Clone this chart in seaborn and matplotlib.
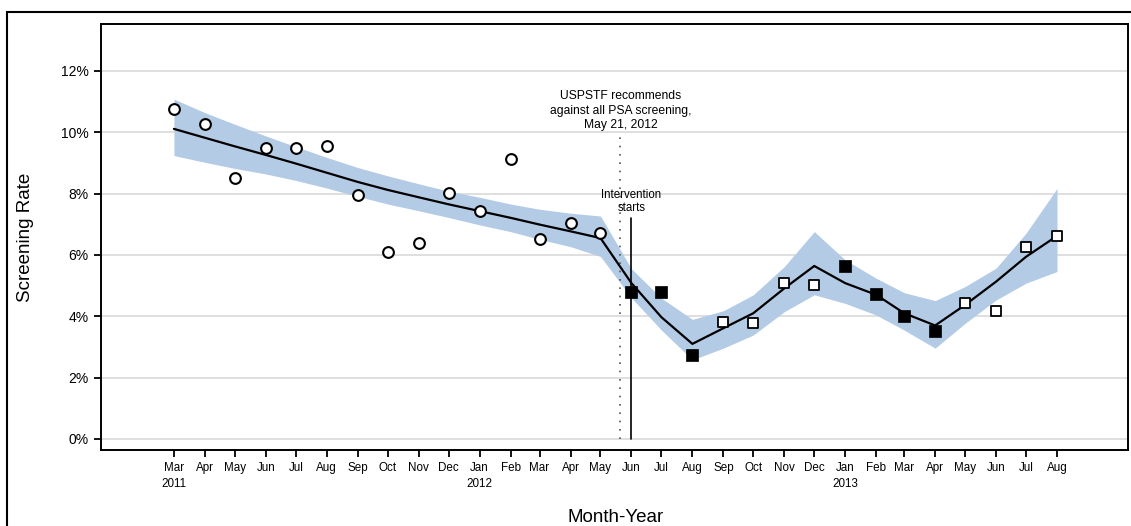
import matplotlib
matplotlib.use("Agg")
import matplotlib.pyplot as plt
import matplotlib.dates as mdates
from matplotlib.patches import Rectangle
from matplotlib.ticker import PercentFormatter
import seaborn as sns
import pandas as pd

# Monthly observations, Mar 2011 - Aug 2013
months = pd.date_range("2011-03-01", "2013-08-01", freq="MS")
month_names = ["Mar", "Apr", "May", "Jun", "Jul", "Aug", "Sep", "Oct", "Nov", "Dec",
               "Jan", "Feb", "Mar", "Apr", "May", "Jun", "Jul", "Aug", "Sep", "Oct",
               "Nov", "Dec", "Jan", "Feb", "Mar", "Apr", "May", "Jun", "Jul", "Aug"]
year_names = {0: "2011", 10: "2012", 22: "2013"}

# observed screening rate (%)
rate = [10.75, 10.27, 8.52, 9.48, 9.48, 9.55, 7.96, 6.11, 6.38, 8.03, 7.43, 9.14, 6.53, 7.03, 6.71,
        4.78, 4.78, 2.74, 3.81, 3.79, 5.10, 5.01, 5.64, 4.71, 4.02, 3.53, 4.42, 4.16, 6.25, 6.61]
# period: pre = circles, active = filled squares, off = open squares
period = ["pre"] * 15 + ["active", "active", "active", "off", "off", "off", "off",
                         "active", "active", "active", "active", "off", "off", "off", "off"]

# fitted model and confidence band (%)
fit = [10.11, 9.82, 9.54, 9.26, 8.98, 8.68, 8.38, 8.12, 7.88, 7.65, 7.43, 7.21, 6.99, 6.77, 6.55,
       5.08, 3.97, 3.10, 3.61, 4.10, 4.91, 5.64, 5.08, 4.70, 4.10, 3.70, 4.37, 5.13, 5.94, 6.62]
upper = [11.08, 10.64, 10.26, 9.88, 9.53, 9.18, 8.85, 8.58, 8.32, 8.08, 7.88, 7.66, 7.49, 7.36, 7.27,
         5.55, 4.59, 3.90, 4.18, 4.70, 5.62, 6.76, 5.84, 5.24, 4.77, 4.51, 4.97, 5.57, 6.71, 8.17]
lower = [9.24, 9.02, 8.82, 8.64, 8.43, 8.18, 7.91, 7.66, 7.44, 7.22, 6.98, 6.76, 6.51, 6.27, 5.95,
         4.60, 3.55, 2.58, 2.96, 3.39, 4.15, 4.70, 4.42, 4.04, 3.55, 2.96, 3.77, 4.53, 5.08, 5.46]

uspstf_date = pd.Timestamp("2012-05-21")
intervention_date = pd.Timestamp("2012-06-01")

df = pd.DataFrame({"month": months, "rate": rate, "period": period,
                   "fit": fit, "upper": upper, "lower": lower})

sns.set_style("white")
plt.rcParams["font.family"] = ["Liberation Sans", "DejaVu Sans"]
plt.rcParams["text.color"] = "black"
plt.rcParams["axes.labelcolor"] = "black"
plt.rcParams["xtick.color"] = "black"
plt.rcParams["ytick.color"] = "black"

fig = plt.figure(figsize=(11.31, 5.26), dpi=100)
ax = fig.add_axes([0.0893, 0.1445, 0.9080, 0.8099])

ax.fill_between(df["month"], df["lower"], df["upper"], color="#b4cbe6", lw=0, zorder=1)
sns.lineplot(data=df, x="month", y="fit", color="black", lw=1.6, ax=ax, zorder=3)

pre = df[df["period"] == "pre"]
active = df[df["period"] == "active"]
off = df[df["period"] == "off"]
sns.scatterplot(data=pre, x="month", y="rate", marker="o", s=60, facecolor="white",
                edgecolor="black", linewidth=1.5, ax=ax, zorder=4)
sns.scatterplot(data=active, x="month", y="rate", marker="s", s=75, color="black",
                edgecolor="black", linewidth=0.5, ax=ax, zorder=4)
sns.scatterplot(data=off, x="month", y="rate", marker="s", s=60, facecolor="white",
                edgecolor="black", linewidth=1.3, ax=ax, zorder=4)

# reference lines
ax.plot([uspstf_date, uspstf_date], [0, 10.0], color="#555555", lw=1.2,
        linestyle=(0, (1, 4)), zorder=2)
ax.plot([intervention_date, intervention_date], [0, 7.2], color="black", lw=1.2, zorder=5)
ax.text(uspstf_date, 10.7, "USPSTF recommends\nagainst all PSA screening,\nMay 21, 2012",
        ha="center", va="center", fontsize=8.7, linespacing=1.3)
ax.text(intervention_date, 7.74, "Intervention\nstarts", ha="center", va="center",
        fontsize=8.3, linespacing=1.15)

# axes
ax.set_xlim(pd.Timestamp("2010-12-18"), pd.Timestamp("2013-10-11"))
ax.set_ylim(-0.36, 13.53)
ax.set_yticks([0, 2, 4, 6, 8, 10, 12])
ax.yaxis.set_major_formatter(PercentFormatter(xmax=100, decimals=0))
ax.set_xticks(months)
ax.set_xticklabels([m + ("\n" + year_names[i] if i in year_names else "")
                    for i, m in enumerate(month_names)], linespacing=1.35)
ax.xaxis.set_minor_locator(mdates.YearLocator(100))

ax.yaxis.grid(True, color="#dcdcdc", lw=1.3)
ax.xaxis.grid(False)
ax.set_axisbelow(True)
for sp in ax.spines.values():
    sp.set_visible(True)
    sp.set_color("black")
    sp.set_linewidth(1.4)

ax.tick_params(axis="x", bottom=True, direction="out", length=5, width=1.3,
               color="black", labelcolor="black", labelsize=8.4, pad=4)
ax.tick_params(axis="y", left=True, direction="out", length=5, width=1.3,
               color="black", labelcolor="black", labelsize=10, pad=4)

ax.set_xlabel("Month-Year", fontsize=13.5, color="black")
ax.set_ylabel("Screening Rate", fontsize=13.5, color="black")
ax.xaxis.set_label_coords(0.501, -0.138)
ax.yaxis.set_label_coords(-0.065, 0.5)

# outer frame of the figure (cut off at right and bottom)
fig.patches.append(Rectangle((0.0062, -0.5), 1.5, 1.4772, transform=fig.transFigure,
                             fill=False, edgecolor="black", lw=1.5))

fig.savefig("out.png", dpi=100)
